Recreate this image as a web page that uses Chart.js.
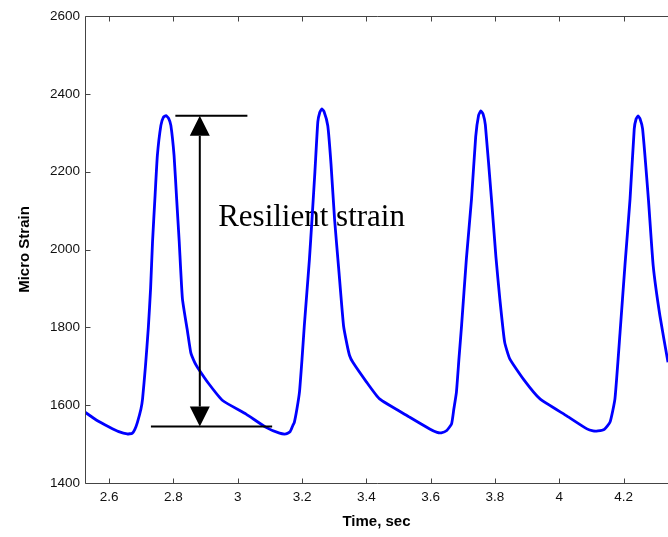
<!DOCTYPE html>
<html>
<head>
<meta charset="utf-8">
<script src="https://cdn.jsdelivr.net/npm/chart.js@4.4.1/dist/chart.umd.min.js"></script>
<style>
  html, body { margin: 0; padding: 0; background: #fff; overflow: hidden; }
  #wrap { width: 668px; height: 537px; position: relative; }
</style>
</head>
<body>
<div id="wrap"><canvas id="strainChart"></canvas></div>
<script>
// Strain signal under repeated load pulses
var timeSec = [
  2.525, 2.56, 2.60, 2.63, 2.656, 2.672, 2.680, 2.688, 2.699, 2.704, 2.713, 2.722, 2.729, 2.735, 2.743, 2.750, 2.761,
  2.769, 2.777, 2.785, 2.792, 2.802, 2.810, 2.818, 2.828, 2.844, 2.854, 2.866, 2.875, 2.91, 2.953, 3.026, 3.088, 3.130, 3.150,
  3.163, 3.171, 3.176, 3.184, 3.192, 3.200, 3.207, 3.215, 3.223, 3.231, 3.240, 3.249, 3.255, 3.261, 3.268, 3.280,
  3.290, 3.301, 3.314, 3.329, 3.340, 3.348, 3.358, 3.40, 3.441, 3.535, 3.597, 3.620, 3.633,
  3.650, 3.665, 3.672, 3.680, 3.688, 3.696, 3.711, 3.727, 3.740, 3.749, 3.756, 3.763, 3.770, 3.789, 3.803, 3.815, 3.830,
  3.846, 3.89, 3.94, 4.024, 4.086, 4.105, 4.120,
  4.140, 4.158, 4.173, 4.189, 4.204, 4.220, 4.233, 4.239, 4.245, 4.251, 4.259, 4.277, 4.292, 4.313, 4.338
];
var microStrain = [
  1582, 1562, 1544, 1532, 1526, 1528, 1538, 1556, 1590, 1616, 1700, 1800, 1900, 2020, 2140, 2241, 2319,
  2340, 2344, 2337, 2319, 2241, 2130, 2020, 1873, 1788, 1735, 1710, 1697, 1655, 1612, 1577, 1543, 1528, 1526,
  1532, 1547, 1556, 1590, 1634, 1720, 1804, 1890, 1976, 2079, 2200, 2328, 2352, 2361, 2355, 2318,
  2220, 2079, 1950, 1804, 1755, 1727, 1710, 1660, 1616, 1569, 1539, 1530, 1529,
  1535, 1552, 1590, 1633, 1720, 1804, 1976, 2130, 2290, 2345, 2356, 2348, 2320, 2130, 1980, 1873, 1762,
  1719, 1665, 1616, 1572, 1539, 1534, 1534,
  1538, 1557, 1616, 1788, 1958, 2130, 2310, 2336, 2343, 2336, 2310, 2130, 1958, 1829, 1710
];

var xTicks = [2.6, 2.8, 3, 3.2, 3.4, 3.6, 3.8, 4, 4.2];
var yTicks = [1400, 1600, 1800, 2000, 2200, 2400, 2600];
var xRange = [2.525, 4.338];
var yRange = [1400, 2600];

// resilient strain marker: peak / trough levels and where the bars sit
var peakLevel = 2344;
var troughLevel = 1545;
var arrowTime = 2.882;
var topBar = [2.806, 3.030];
var bottomBar = [2.730, 3.107];
var noteText = 'Resilient strain';
var notePos = [2.939, 2061];

var points = timeSec.map(function (t, i) {
  return { x: t, y: microStrain[i] };
});

// box frame with inward tick marks
var framePlugin = {
  id: 'frame',
  afterDraw: function (chart) {
    var ctx = chart.ctx;
    var a = chart.chartArea;
    var xs = chart.scales.x;
    var ys = chart.scales.y;
    var L = a.left + 0.5, T = a.top + 0.5, B = a.bottom + 0.5, R = a.right + 2;
    ctx.save();
    ctx.strokeStyle = '#444';
    ctx.lineWidth = 1;
    ctx.beginPath();
    ctx.moveTo(R, T); ctx.lineTo(L, T); ctx.lineTo(L, B); ctx.lineTo(R, B);
    xTicks.forEach(function (v) {
      var px = Math.round(xs.getPixelForValue(v)) + 0.5;
      ctx.moveTo(px, B); ctx.lineTo(px, B - 5);
      ctx.moveTo(px, T); ctx.lineTo(px, T + 5);
    });
    yTicks.forEach(function (v) {
      var py = Math.round(ys.getPixelForValue(v)) + 0.5;
      ctx.moveTo(L, py); ctx.lineTo(L + 5, py);
    });
    ctx.stroke();
    ctx.restore();
  }
};

// text sits under the curve, bars and arrow on top
var notePlugin = {
  id: 'note',
  beforeDatasetsDraw: function (chart) {
    var ctx = chart.ctx;
    var xs = chart.scales.x, ys = chart.scales.y;
    ctx.save();
    ctx.fillStyle = '#000';
    ctx.font = '31px "Liberation Serif", "Times New Roman", serif';
    ctx.textBaseline = 'alphabetic';
    ctx.textAlign = 'left';
    ctx.fillText(noteText, xs.getPixelForValue(notePos[0]), ys.getPixelForValue(notePos[1]));
    ctx.restore();
  },
  afterDatasetsDraw: function (chart) {
    var ctx = chart.ctx;
    var xs = chart.scales.x, ys = chart.scales.y;
    var yTop = ys.getPixelForValue(peakLevel);
    var yBot = ys.getPixelForValue(troughLevel);
    var ax = xs.getPixelForValue(arrowTime);
    var head = 20, half = 10;
    ctx.save();
    ctx.strokeStyle = '#000';
    ctx.fillStyle = '#000';
    ctx.lineWidth = 2;
    ctx.beginPath();
    ctx.moveTo(xs.getPixelForValue(topBar[0]), yTop);
    ctx.lineTo(xs.getPixelForValue(topBar[1]), yTop);
    ctx.moveTo(xs.getPixelForValue(bottomBar[0]), yBot);
    ctx.lineTo(xs.getPixelForValue(bottomBar[1]), yBot);
    ctx.moveTo(ax, yTop + head);
    ctx.lineTo(ax, yBot - head);
    ctx.stroke();
    ctx.beginPath();
    ctx.moveTo(ax, yTop);
    ctx.lineTo(ax - half, yTop + head);
    ctx.lineTo(ax + half, yTop + head);
    ctx.closePath();
    ctx.moveTo(ax, yBot);
    ctx.lineTo(ax - half, yBot - head);
    ctx.lineTo(ax + half, yBot - head);
    ctx.closePath();
    ctx.fill();
    ctx.restore();
  }
};

var tickFont = { family: '"Liberation Sans", Arial, sans-serif', size: 13.5 };
var titleFont = { family: '"Liberation Sans", Arial, sans-serif', size: 15, weight: 'bold' };

new Chart(document.getElementById('strainChart'), {
  type: 'line',
  data: {
    datasets: [{
      data: points,
      borderColor: '#0000ff',
      borderWidth: 2.8,
      borderJoinStyle: 'round',
      pointRadius: 0,
      tension: 0.15,
      fill: false
    }]
  },
  options: {
    responsive: true,
    maintainAspectRatio: false,
    animation: false,
    devicePixelRatio: 1,
    layout: { padding: { top: 16, right: 0, bottom: 0, left: 0 } },
    plugins: { legend: { display: false }, tooltip: { enabled: false } },
    scales: {
      x: {
        type: 'linear',
        min: xRange[0],
        max: xRange[1],
        afterBuildTicks: function (scale) {
          scale.ticks = xTicks.map(function (v) { return { value: v }; });
        },
        afterFit: function (scale) { scale.height = 54; },
        grid: { display: false, drawTicks: false },
        border: { display: false },
        ticks: {
          color: '#111',
          font: tickFont,
          padding: 6,
          maxRotation: 0,
          autoSkip: false,
          callback: function (v) { return String(+Number(v).toFixed(1)); }
        },
        title: {
          display: true,
          text: 'Time, sec',
          color: '#000',
          font: titleFont,
          padding: { top: 0, bottom: 6 }
        }
      },
      y: {
        min: yRange[0],
        max: yRange[1],
        afterBuildTicks: function (scale) {
          scale.ticks = yTicks.map(function (v) { return { value: v }; });
        },
        afterFit: function (scale) { scale.width = 85; },
        grid: { display: false, drawTicks: false },
        border: { display: false },
        ticks: {
          color: '#111',
          font: tickFont,
          padding: 5,
          autoSkip: false,
          callback: function (v) { return String(v); }
        },
        title: {
          display: true,
          text: 'Micro Strain',
          color: '#000',
          font: titleFont,
          padding: { top: 16, bottom: 0 }
        }
      }
    }
  },
  plugins: [framePlugin, notePlugin]
});
</script>
</body>
</html>
